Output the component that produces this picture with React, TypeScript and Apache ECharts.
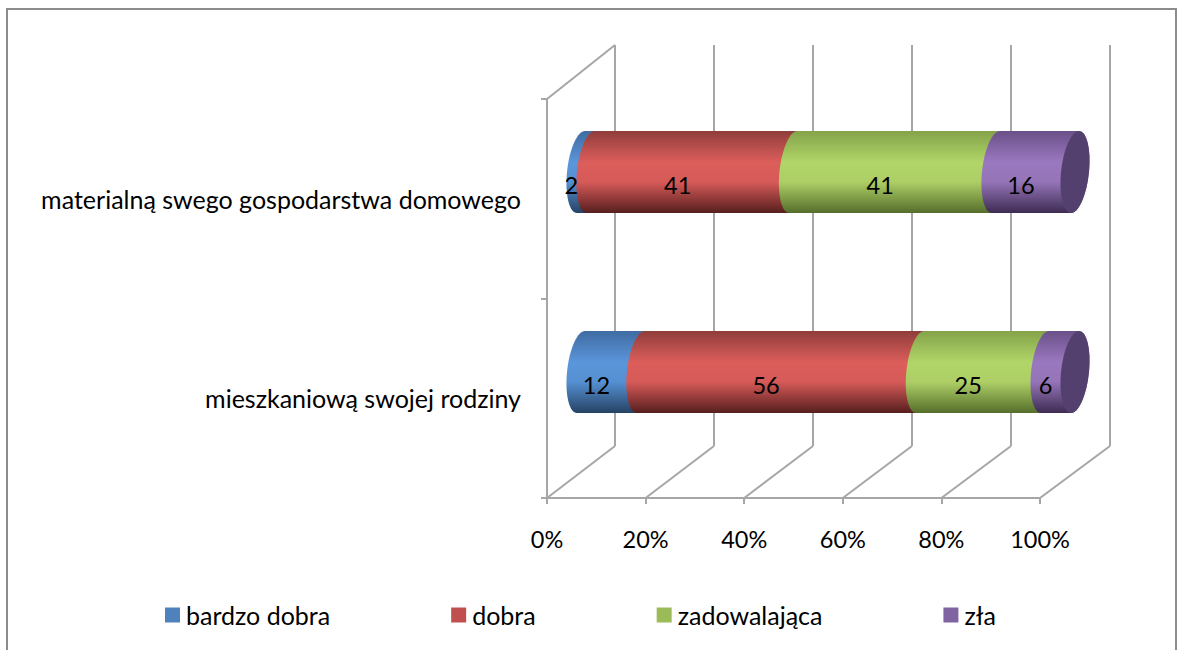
import React, { useEffect, useRef } from "react";
import * as echarts from "echarts";

const categories = ["mieszkaniową swojej rodziny", "materialną swego gospodarstwa domowego"];
const seriesNames = ["bardzo dobra", "dobra", "zadowalająca", "zła"];
const bardzoDobra = [12, 2];
const dobra = [56, 41];
const zadowalajaca = [25, 41];
const zla = [6, 16];
const xTicks = [0, 20, 40, 60, 80, 100];

const seriesValues = [bardzoDobra, dobra, zadowalajaca, zla];
const baseColors = ["#4F81BD", "#C0504D", "#9BBB59", "#8064A2"];
const shades = [
  ["#3f6ca3", "#5b95da", "#5590d2", "#254263"],
  ["#8f3d3b", "#dc5e5b", "#d65a58", "#561f1e"],
  ["#84a34a", "#b1d568", "#adcf66", "#566e2b"],
  ["#6a5088", "#9a78bf", "#9574b8", "#3d2c52"],
];
const capColor = "#54406f";
const gridColor = "#a6a6a6";
const FONT = "Lato";
const TEXT_SIZE = 25;
const NUM_SIZE = 23.5;

const FRONT = { left: 547, right: 1040, top: 99, bottom: 498 };
const BACK = { left: 615, right: 1110, top: 45, bottom: 446 };
const BARS = { left: 581, right: 1075, top: 72, bottom: 472 };
const W = 1177;
const H = 650;

const gridOf = (b: typeof FRONT) => ({
  left: b.left,
  top: b.top,
  width: b.right - b.left,
  height: b.bottom - b.top,
});

const totals = categories.map((_, i) => seriesValues.reduce((s, v) => s + v[i], 0));

function segmentData(si: number) {
  return categories.map((_, i) => {
    let before = 0;
    for (let k = 0; k < si; k++) before += seriesValues[k][i];
    const start = (before / totals[i]) * 100;
    const end = ((before + seriesValues[si][i]) / totals[i]) * 100;
    return [start, end, i, seriesValues[si][i]];
  });
}

const RX = 14;
const SKEW = 4;
function arc(cx: number, cy: number, ry: number, from: number, to: number) {
  const pts: number[][] = [];
  const n = 32;
  for (let k = 0; k <= n; k++) {
    const t = ((from + ((to - from) * k) / n) * Math.PI) / 180;
    pts.push([cx + RX * Math.cos(t) - SKEW * Math.sin(t), cy + ry * Math.sin(t)]);
  }
  return pts;
}

function segmentSeries(si: number) {
  return {
    type: "custom",
    name: seriesNames[si],
    xAxisIndex: 2,
    yAxisIndex: 2,
    z: 3,
    silent: true,
    itemStyle: { color: baseColors[si] },
    encode: { x: [0, 1], y: 2 },
    data: segmentData(si),
    renderItem: (_p: any, api: any) => {
      const cat = api.value(2);
      const a = api.coord([api.value(0), cat]);
      const b = api.coord([api.value(1), cat]);
      const ry = (api.size([0, 1])[1] * 0.41) / 2;
      const cy = a[1];
      const pts = [...arc(b[0], cy, ry, -90, 90), ...arc(a[0], cy, ry, 90, 270)];
      const s = shades[si];
      const children: any[] = [
        {
          type: "polygon",
          shape: { points: pts },
          style: {
            fill: new echarts.graphic.LinearGradient(0, 0, 0, 1, [
              { offset: 0, color: s[0] },
              { offset: 0.38, color: s[1] },
              { offset: 0.62, color: s[2] },
              { offset: 1, color: s[3] },
            ]),
          },
        },
      ];
      if (si === seriesValues.length - 1) {
        children.push({
          type: "polygon",
          z2: 5,
          shape: { points: arc(b[0], cy, ry, 0, 360) },
          style: { fill: capColor },
        });
      }
      children.push({
        type: "text",
        z2: 100,
        style: {
          x: (a[0] + b[0]) / 2 - 14.5,
          y: cy + 12.5,
          text: String(api.value(3)),
          fill: "#000",
          font: `${NUM_SIZE}px ${FONT}`,
          align: "center",
          verticalAlign: "middle",
        },
      });
      return { type: "group", children };
    },
  };
}

export default function App() {
  const ref = useRef<HTMLDivElement>(null);
  useEffect(() => {
    const chart = echarts.init(ref.current!, null, { renderer: "svg", width: W, height: H });
    const axisLine = { show: true, lineStyle: { color: gridColor, width: 2 } };
    chart.setOption({
      animation: false,
      backgroundColor: "#fff",
      color: baseColors,
      textStyle: { fontFamily: FONT },
      grid: [gridOf(FRONT), gridOf(BACK), gridOf(BARS)],
      xAxis: [
        {
          gridIndex: 0,
          type: "value",
          min: 0,
          max: 100,
          interval: 20,
          axisLine,
          axisTick: { show: true, length: 6, lineStyle: { color: gridColor, width: 2 } },
          splitLine: { show: false },
          axisLabel: {
            formatter: "{value}%",
            fontSize: NUM_SIZE,
            color: "#000",
            margin: 29,
            fontFamily: FONT,
            hideOverlap: false,
          },
        },
        {
          gridIndex: 1,
          type: "value",
          min: 0,
          max: 100,
          interval: 20,
          axisLine: { show: false },
          axisTick: { show: false },
          axisLabel: { show: false },
          splitLine: { show: true, lineStyle: { color: gridColor, width: 2 } },
        },
        { gridIndex: 2, type: "value", min: 0, max: 100, show: false },
      ],
      yAxis: [
        {
          gridIndex: 0,
          type: "category",
          data: categories,
          axisLine,
          axisTick: { show: true, length: 6, lineStyle: { color: gridColor, width: 2 } },
          axisLabel: {
            fontSize: TEXT_SIZE,
            color: "#000",
            margin: 26,
            fontFamily: FONT,
            interval: 0,
          },
        },
        { gridIndex: 1, type: "value", min: 0, max: 1, show: false },
        { gridIndex: 2, type: "category", data: categories, show: false },
      ],
      legend: {
        left: 165,
        top: 602.5,
        padding: 0,
        itemWidth: 15,
        itemHeight: 15,
        itemGap: 121,
        icon: "rect",
        selectedMode: false,
        textStyle: { fontSize: TEXT_SIZE, color: "#000", fontFamily: FONT, padding: [0, 0, 0, 1] },
        data: seriesNames,
      },
      graphic: [
        {
          type: "rect",
          silent: true,
          shape: { x: 7, y: 9, width: 1169, height: 680 },
          style: { fill: "none", stroke: "#8c8c8c", lineWidth: 2 },
        },
      ],
      series: [
        {
          type: "custom",
          xAxisIndex: 1,
          yAxisIndex: 1,
          silent: true,
          z: 1,
          data: xTicks,
          encode: { x: 0 },
          renderItem: (_p: any, api: any) => {
            const v = api.value(0);
            const back = api.coord([v, 0]);
            const frontX = FRONT.left + ((FRONT.right - FRONT.left) * v) / 100;
            const lineStyle = { stroke: gridColor, lineWidth: 2, fill: "none" };
            const children: any[] = [
              {
                type: "line",
                shape: { x1: frontX, y1: FRONT.bottom, x2: back[0], y2: back[1] },
                style: lineStyle,
              },
            ];
            if (v === 0) {
              const top = api.coord([0, 1]);
              children.push({
                type: "line",
                shape: { x1: FRONT.left, y1: FRONT.top, x2: top[0], y2: top[1] },
                style: lineStyle,
              });
            }
            return { type: "group", children };
          },
        },
        ...seriesNames.map((_, i) => segmentSeries(i)),
      ],
    });
    return () => chart.dispose();
  }, []);
  return (
    <div
      ref={ref}
      style={{ position: "absolute", left: 0, top: 0, width: W, height: H }}
    />
  );
}
